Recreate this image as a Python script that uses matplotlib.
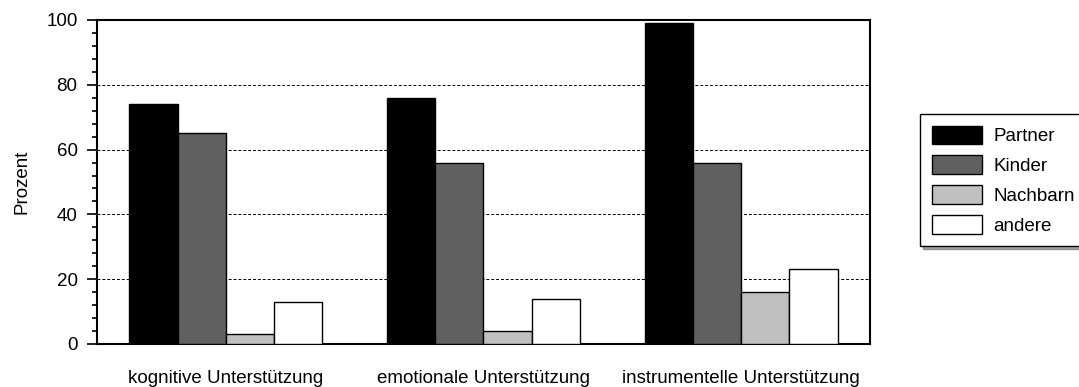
import matplotlib
matplotlib.use("Agg")
import matplotlib.pyplot as plt
import numpy as np
from matplotlib.ticker import MultipleLocator

categories = ["kognitive Unterstützung", "emotionale Unterstützung", "instrumentelle Unterstützung"]
series_names = ["Partner", "Kinder", "Nachbarn", "andere"]
partner = [74, 76, 99]
kinder = [65, 56, 56]
nachbarn = [3, 4, 16]
andere = [13, 14, 23]
colors = ["#000000", "#606060", "#c0c0c0", "#ffffff"]

plt.rcParams['font.family'] = ['Liberation Sans', 'DejaVu Sans']
plt.rcParams['font.size'] = 13.5

W, H = 1079, 387
fig = plt.figure(figsize=(W / 100, H / 100), dpi=100)
ax = fig.add_axes([97 / W, 1 - 344 / H, (870 - 97) / W, (344 - 20) / H])

x = np.arange(len(categories))
bw = 0.187
data = [partner, kinder, nachbarn, andere]
for i, (vals, name, c) in enumerate(zip(data, series_names, colors)):
    ax.bar(x + (i - 1.5) * bw, vals, bw, color=c, edgecolor="black", linewidth=1.0,
           label=name, zorder=3)

ax.set_xlim(-0.5, 2.5)
ax.set_ylim(0, 100)
ax.yaxis.set_major_locator(MultipleLocator(20))
ax.yaxis.set_minor_locator(MultipleLocator(4))
ax.set_xticks(x)
ax.set_xticklabels(categories)
ax.tick_params(axis="x", length=0, pad=18.5)
ax.tick_params(axis="y", which="major", length=7.5, width=1.2, direction="out", pad=6.5)
ax.tick_params(axis="y", which="minor", length=3.7, width=1.2, direction="out")
ax.set_ylabel("Prozent")
ax.yaxis.set_label_coords((31 - 97) / (870 - 97), 0.5)
ax.yaxis.grid(True, which="major", linestyle=(0, (3, 2)), color="black", linewidth=0.7, zorder=0)
ax.set_axisbelow(True)
for s in ax.spines.values():
    s.set_linewidth(1.5)
    s.set_color("black")

leg = ax.legend(loc="upper left", bbox_to_anchor=(920 / W, 1 - 114 / H),
                bbox_transform=fig.transFigure,
                frameon=True, fancybox=False, shadow=True, edgecolor="black",
                handlelength=2.67, handleheight=1.17, handletextpad=0.62,
                labelspacing=0.53, borderpad=0.62, borderaxespad=0)
leg.get_frame().set_linewidth(1.0)

fig.savefig("out.png", dpi=100)
